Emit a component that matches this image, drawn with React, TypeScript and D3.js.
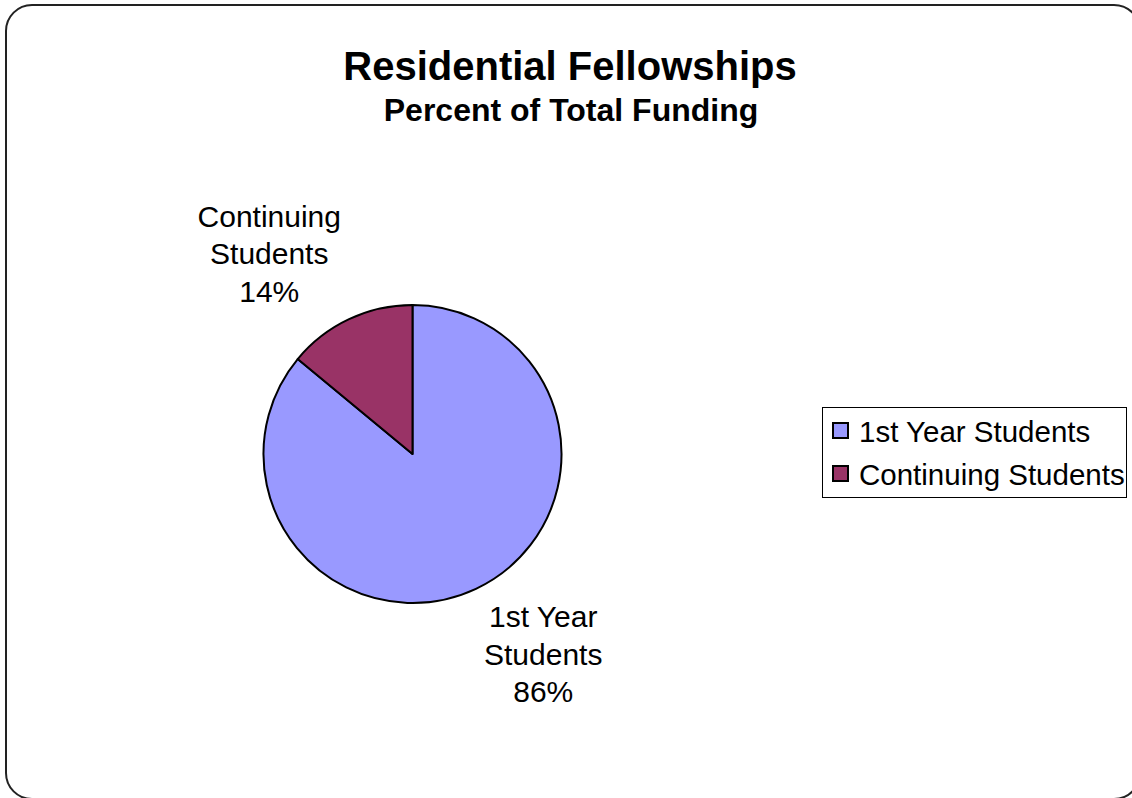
import React from "react";
import * as d3 from "d3";

const categories = ["1st Year Students", "Continuing Students"];
const values = [86, 14];
const labelLines = [
  ["1st Year", "Students"],
  ["Continuing", "Students"],
];
const colors = ["#9999FF", "#993366"];
const title = "Residential Fellowships";
const subtitle = "Percent of Total Funding";

const W = 1132;
const H = 798;
const FONT = "'Liberation Sans', Arial, sans-serif";

function measure(text: string, size: number): number {
  const c = document.createElement("canvas").getContext("2d");
  if (!c) return text.length * size * 0.5;
  c.font = `${size}px 'Liberation Sans', Arial, sans-serif`;
  return c.measureText(text).width;
}

export default function App() {
  const cx = 412.5;
  const cy = 454;
  const r = 149;
  const total = d3.sum(values);
  const pie = d3
    .pie<number>()
    .sort(null)
    .startAngle(0)
    .endAngle(2 * Math.PI)
    .value((d) => d);
  const arcs = pie(values);
  const arc = d3.arc<d3.PieArcDatum<number>>().innerRadius(0).outerRadius(r);

  const labelSize = 30;
  const lineH = 37.5;
  const labelR = r + 19;

  return (
    <div style={{ position: "absolute", left: 0, top: 0, width: W, height: H, overflow: "hidden" }}>
      <svg width={W} height={H} style={{ display: "block", background: "#fff" }} fontFamily={FONT}>
        <rect x={6} y={5} width={1134} height={794} rx={26} ry={26} fill="#fff" stroke="#222" strokeWidth={2} />
        <text x={570} y={80} textAnchor="middle" fontSize={40} fontWeight="bold" fill="#000">
          {title}
        </text>
        <text x={571} y={121} textAnchor="middle" fontSize={32} fontWeight="bold" fill="#000">
          {subtitle}
        </text>
        <g transform={`translate(${cx},${cy})`}>
          {arcs.map((a, i) => (
            <path key={i} d={arc(a) || ""} fill={colors[i]} stroke="#000" strokeWidth={2} strokeLinejoin="round" />
          ))}
        </g>
        {arcs.map((a, i) => {
          const mid = (a.startAngle + a.endAngle) / 2;
          const sx = Math.sin(mid);
          const sy = -Math.cos(mid);
          const pct = `${Math.round((a.value / total) * 100)}%`;
          const lines = [...labelLines[i], pct];
          const wMax = d3.max(lines, (l) => measure(l, labelSize)) || 0;
          const hBox = 96;
          const ax = cx + sx * labelR + Math.sign(sx) * (wMax / 2);
          const ay = cy + sy * labelR + Math.sign(sy) * (hBox / 2);
          return (
            <text key={i} x={ax} textAnchor="middle" fontSize={labelSize} fill="#000">
              {lines.map((l, j) => (
                <tspan key={j} x={ax} y={ay + (j - 1) * lineH + 10.5}>
                  {l}
                </tspan>
              ))}
            </text>
          );
        })}
        <g>
          <rect x={822.5} y={407.5} width={304} height={90} fill="#fff" stroke="#000" strokeWidth={1} />
          {categories.map((c, i) => (
            <g key={c} transform={`translate(0,${i * 43})`}>
              <rect x={833} y={423} width={15} height={15} fill={colors[i]} stroke="#000" strokeWidth={2} />
              <text x={859} y={442} fontSize={29.5} fill="#000">
                {c}
              </text>
            </g>
          ))}
        </g>
      </svg>
    </div>
  );
}
